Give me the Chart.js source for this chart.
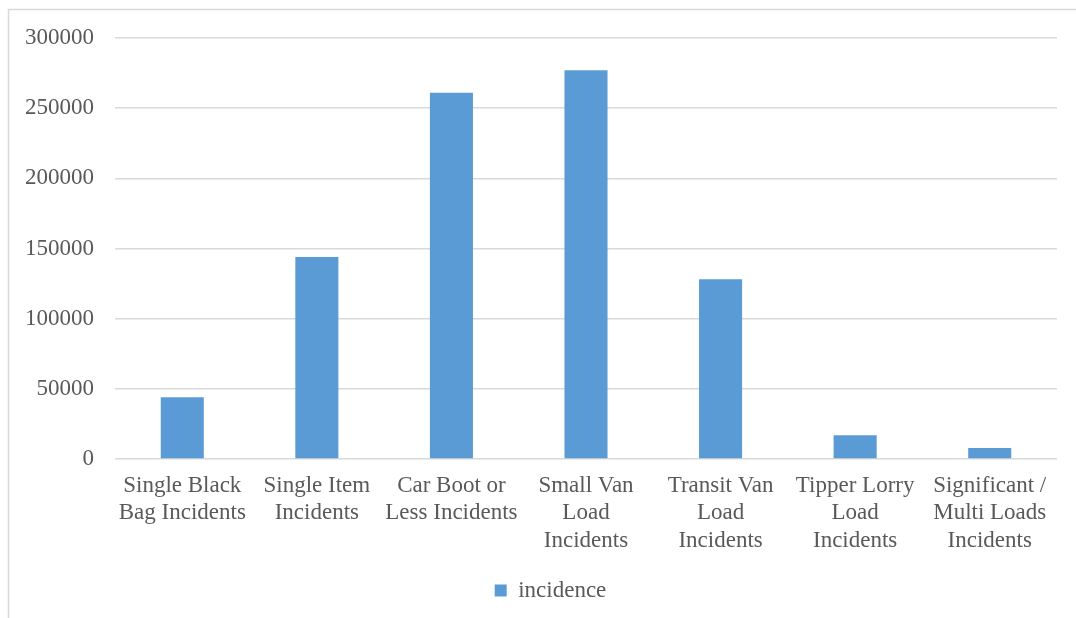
<!DOCTYPE html>
<html>
<head>
<meta charset="utf-8">
<script src="https://cdn.jsdelivr.net/npm/chart.js@4/dist/chart.umd.min.js"></script>
<style>
  html, body { margin: 0; padding: 0; background: #ffffff; }
  #wrap { position: relative; width: 1076px; height: 618px; }
</style>
</head>
<body>
<div id="wrap"><canvas id="chart" width="1076" height="618"></canvas></div>
<script>
// chart data
const categories = [
  ['Single Black', 'Bag Incidents'],
  ['Single Item', 'Incidents'],
  ['Car Boot or', 'Less Incidents'],
  ['Small Van', 'Load', 'Incidents'],
  ['Transit Van', 'Load', 'Incidents'],
  ['Tipper Lorry', 'Load', 'Incidents'],
  ['Significant /', 'Multi Loads', 'Incidents']
];
const incidence = [44000, 144000, 261000, 277000, 128000, 17000, 7900];
const seriesName = 'incidence';
const yTicks = [0, 50000, 100000, 150000, 200000, 250000, 300000];

const textColor = '#595959';
const gridColor = '#d9d9d9';
const fontFamily = '"Liberation Serif", "Times New Roman", serif';

// light frame around the chart, like the Excel chart border
const framePlugin = {
  id: 'frame',
  beforeDraw(chart) {
    const ctx = chart.ctx;
    ctx.save();
    ctx.strokeStyle = gridColor;
    ctx.lineWidth = 1.5;
    ctx.beginPath();
    ctx.moveTo(8.5, 618);
    ctx.lineTo(8.5, 9.5);
    ctx.lineTo(1076, 9.5);
    ctx.stroke();
    ctx.restore();
  }
};

// Excel centres the legend a bit right of the canvas centre
const legendShift = {
  id: 'legendShift',
  afterLayout(chart) {
    if (chart.legend) chart.legend.left = 44;
  }
};

new Chart(document.getElementById('chart').getContext('2d'), {
  type: 'bar',
  data: {
    labels: categories,
    datasets: [{
      label: seriesName,
      data: incidence,
      backgroundColor: '#5b9bd5',
      borderWidth: 0,
      barPercentage: 0.32,
      categoryPercentage: 1
    }]
  },
  options: {
    responsive: false,
    animation: false,
    layout: { padding: { top: 38, right: 19, left: 0, bottom: 6 } },
    plugins: {
      tooltip: { enabled: false },
      legend: {
        position: 'bottom',
        labels: {
          color: textColor,
          font: { family: fontFamily, size: 23 },
          boxWidth: 12,
          boxHeight: 12,
          padding: 10
        }
      }
    },
    scales: {
      x: {
        grid: { display: false, drawTicks: false },
        border: { display: false },
        ticks: {
          color: textColor,
          font: { family: fontFamily, size: 23, lineHeight: 1.2 },
          padding: 13,
          maxRotation: 0,
          autoSkip: false
        },
        afterFit(scale) { scale.height = 110; }
      },
      y: {
        min: 0,
        max: 300000,
        afterBuildTicks(scale) { scale.ticks = yTicks.map(v => ({ value: v })); },
        grid: { color: gridColor, lineWidth: 1.5, drawTicks: false },
        border: { display: false },
        ticks: {
          color: textColor,
          font: { family: fontFamily, size: 23 },
          padding: 21,
          callback: v => String(v)
        },
        afterFit(scale) { scale.width = 115; }
      }
    }
  },
  plugins: [framePlugin, legendShift]
});
</script>
</body>
</html>
